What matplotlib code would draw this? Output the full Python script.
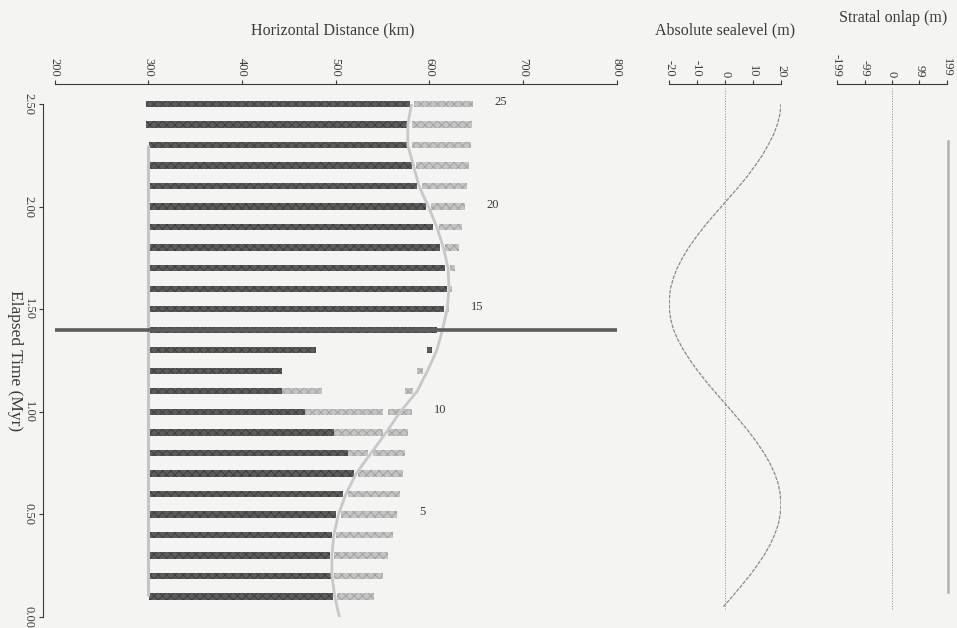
import matplotlib.pyplot as plt

plt.rcParams['font.family'] = ['Liberation Serif', 'DejaVu Serif']
plt.rcParams['hatch.linewidth'] = 0.6

# layers: deposition time (Myr) and horizontal extents (km)
layer_time = [0.1, 0.2, 0.3, 0.4, 0.5, 0.6, 0.7, 0.8, 0.9, 1.0,
              1.1, 1.2, 1.3, 1.4, 1.5, 1.6, 1.7, 1.8, 1.9, 2.0,
              2.1, 2.2, 2.3, 2.4, 2.5]
layer_start = [301, 301, 301, 301, 301, 301, 301, 301, 301, 301,
               301, 301, 301, 301, 301, 301, 301, 301, 301, 301,
               301, 301, 301, 298, 298]
dark_end = [497, 495, 494, 496, 500, 508, 520, 513, 498, 467,
            443, 443, 479, 608, 616, 619, 617, 611, 604, 596,
            587, 581, 576, 576, 579]
inner_end = [497, 495, 494, 496, 500, 508, 520, 534, 551, 551,
             485, 443, 479, 608, 616, 619, 617, 611, 604, 596,
             587, 581, 576, 576, 579]
outer_start = [501, 498, 498, 500, 506, 513, 524, 540, 556, 556,
               574, 587, 598, 608, 619, 622, 622, 617, 610, 602,
               592, 586, 582, 581, 584]
outer_end = [541, 551, 556, 561, 566, 569, 572, 574, 577, 582,
             583, 593, 603, 608, 621, 624, 627, 632, 635, 638,
             640, 642, 644, 646, 647]
outer_is_dark = [13]
labelled_layers = [5, 10, 15, 20, 25]

# shoreline position through time
shore_time = [0.0, 0.1, 0.2, 0.3, 0.4, 0.5, 0.6, 0.7, 0.8, 0.9, 1.0, 1.1, 1.2,
              1.3, 1.4, 1.5, 1.6, 1.7, 1.8, 1.9, 2.0, 2.1, 2.2, 2.3, 2.4, 2.5]
shore_km = [504, 499, 496, 496, 498, 503, 511, 522, 538, 554, 569, 587, 598,
            608, 614, 619, 621, 620, 615, 608, 599, 589, 583, 577, 577, 581]

# basement edge and the marker horizon
base_time = [0.1, 2.3]
base_km = [300, 300]
marker_time = 1.4

# absolute sea level (m)
sl_time = [0.05, 0.10, 0.15, 0.20, 0.25, 0.30, 0.35, 0.40, 0.45, 0.50,
           0.55, 0.60, 0.65, 0.70, 0.75, 0.80, 0.85, 0.90, 0.95, 1.00,
           1.05, 1.10, 1.15, 1.20, 1.25, 1.30, 1.35, 1.40, 1.45, 1.50,
           1.55, 1.60, 1.65, 1.70, 1.75, 1.80, 1.85, 1.90, 1.95, 2.00,
           2.05, 2.10, 2.15, 2.20, 2.25, 2.30, 2.35, 2.40, 2.45, 2.50]
sl_value = [-0.6, 2.6, 5.7, 8.7, 11.4, 13.9, 16.0, 17.7, 19.0, 19.7,
            20.0, 19.7, 19.0, 17.7, 16.0, 13.9, 11.4, 8.7, 5.7, 2.6,
            -0.6, -3.8, -6.9, -9.8, -12.4, -14.8, -16.8, -18.4, -19.4, -19.9,
            -19.9, -19.5, -18.5, -17.1, -15.2, -13.0, -10.4, -7.6, -4.5, -1.3,
            1.9, 5.1, 8.1, 10.8, 13.3, 15.4, 17.3, 18.7, 19.6, 20.0]

# stratal onlap (m)
onlap_time = [0.12, 2.32]
onlap_value = [201, 201]

dist_ticks = [200, 300, 400, 500, 600, 700, 800]
time_ticks = [0.0, 0.5, 1.0, 1.5, 2.0, 2.5]
sl_ticks = [-20, -10, 0, 10, 20]
onlap_ticks = [-199, -99, 0, 99, 199]

dark = '#5c5c5c'
dark_hatch = '#3c3c3c'
light = '#c4c4c4'
light_hatch = '#9e9e9e'
ink = '#3a3a3a'

fig = plt.figure(figsize=(9.57, 6.28), dpi=100, facecolor='#f4f4f2')
ax = fig.add_axes([0.0571, 0.0175, 0.5873, 0.8169])
ax2 = fig.add_axes([0.6991, 0.0175, 0.1170, 0.8169])
ax3 = fig.add_axes([0.8746, 0.0175, 0.1149, 0.8169])

bar_h = 0.031

# dark part of each layer
ax.barh(layer_time, [e - s for s, e in zip(layer_start, dark_end)], left=layer_start,
        height=bar_h, color=dark, edgecolor=dark_hatch, hatch='xxxx', lw=0, clip_on=False)
# light part landward of the shoreline
ax.barh(layer_time, [e - s for s, e in zip(dark_end, inner_end)], left=dark_end,
        height=bar_h, color=light, edgecolor=light_hatch, hatch='xxxx', lw=0, clip_on=False)
# light part seaward of the shoreline
for i, t in enumerate(layer_time):
    if i + 1 in outer_is_dark:
        fc, hc = dark, dark_hatch
    else:
        fc, hc = light, light_hatch
    ax.barh(t, outer_end[i] - outer_start[i], left=outer_start[i], height=bar_h,
            color=fc, edgecolor=hc, hatch='xxxx', lw=0, clip_on=False)

for n in labelled_layers:
    ax.text(outer_end[n - 1] + 23, layer_time[n - 1] + 0.01, str(n), fontsize=9,
            color=ink, ha='left', va='center')

ax.plot(base_km, base_time, color=light, lw=2.2, solid_capstyle='butt')
ax.plot(shore_km, shore_time, color='#c8c8c8', lw=2.0)
ax.plot([200, 800], [marker_time, marker_time], color=dark, lw=2.6,
        solid_capstyle='butt', clip_on=False)

ax2.plot(sl_value, sl_time, color='#8a8a8a', lw=0.9, ls=(0, (3, 1)))
ax2.plot([0, 0], [0.04, 2.58], color='#8a8a8a', lw=0.7, ls=':', clip_on=False)

ax3.plot(onlap_value, onlap_time, color='#b0b0b0', lw=1.8, clip_on=False)
ax3.plot([0, 0], [0.04, 2.58], color='#8a8a8a', lw=0.7, ls=':', clip_on=False)

for a in (ax, ax2, ax3):
    a.set_facecolor('none')
    a.set_ylim(0, 2.5)
    a.xaxis.tick_top()
    for s in ('right', 'bottom'):
        a.spines[s].set_visible(False)
    a.spines['top'].set_position(('outward', 14.4))
    a.spines['top'].set_color(ink)
    a.spines['top'].set_linewidth(0.8)
    a.tick_params(axis='x', colors=ink, length=3, width=0.8, pad=2, labelsize=9,
                  labelrotation=-90)

ax.set_xlim(200, 800)
ax.set_xticks(dist_ticks)
ax.set_xticklabels([str(v) for v in dist_ticks])
ax.set_yticks(time_ticks)
ax.set_yticklabels(['%.2f' % v for v in time_ticks])
ax.spines['left'].set_position(('outward', 8.4))
ax.spines['left'].set_color(ink)
ax.spines['left'].set_linewidth(0.8)
ax.tick_params(axis='y', colors=ink, length=3, width=0.8, pad=3, labelsize=9,
               labelrotation=-90)
for lab in ax.get_yticklabels():
    lab.set_va('center')

ax2.set_xlim(-20, 20)
ax2.set_xticks(sl_ticks)
ax2.set_xticklabels([str(v) for v in sl_ticks])
ax3.set_xlim(-199, 199)
ax3.set_xticks(onlap_ticks)
ax3.set_xticklabels([str(v) for v in onlap_ticks])
for a in (ax2, ax3):
    a.spines['left'].set_visible(False)
    a.set_yticks([])

fig.text(333 / 957, 1 - 30 / 628, 'Horizontal Distance (km)', fontsize=11.5,
         color=ink, ha='center', va='center')
fig.text(725 / 957, 1 - 30 / 628, 'Absolute sealevel (m)', fontsize=11.5,
         color=ink, ha='center', va='center')
fig.text(893 / 957, 1 - 18 / 628, 'Stratal onlap (m)', fontsize=11.5,
         color=ink, ha='center', va='center')
fig.text(15 / 957, 1 - 361 / 628, 'Elapsed Time (Myr)', fontsize=12.5,
         color=ink, ha='center', va='center', rotation=-90)

fig.savefig('out.png', dpi=100, facecolor=fig.get_facecolor())
